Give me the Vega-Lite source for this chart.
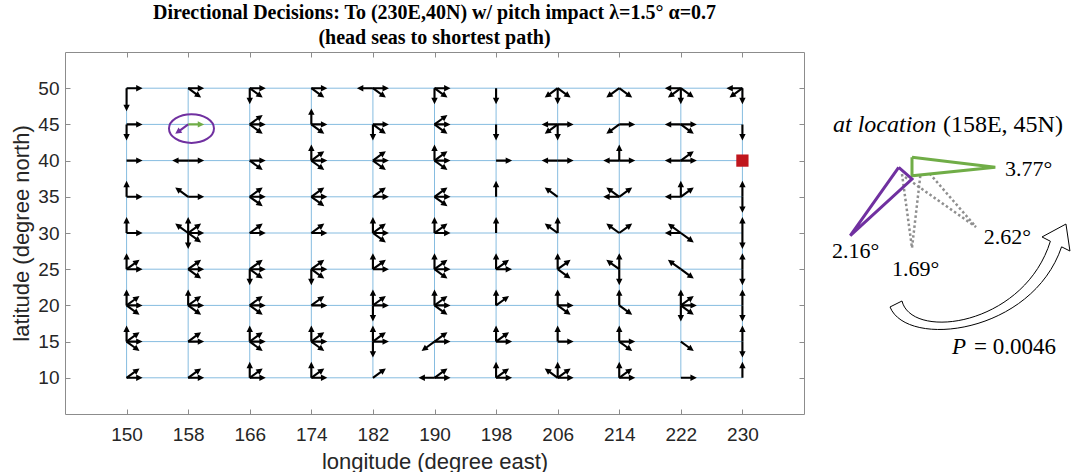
{
  "$schema": "https://vega.github.io/schema/vega-lite/v6.json",
  "width": 739,
  "height": 362,
  "padding": {"left": 10, "top": 2, "right": 0, "bottom": 0},
  "background": "white",
  "title": {
    "text": ["Directional Decisions: To (230E,40N) w/ pitch impact λ=1.5° α=0.7", "(head seas to shortest path)"],
    "font": "Liberation Serif", "fontSize": 20, "fontWeight": "bold", "color": "#000000",
    "anchor": "middle", "frame": "group", "offset": 4, "lineHeight": 25
  },
  "config": {
    "view": {"stroke": "#8c8c8c", "strokeWidth": 1},
    "axis": {
      "labelFont": "Liberation Sans", "titleFont": "Liberation Sans",
      "labelColor": "#262626", "titleColor": "#262626", "tickColor": "#8c8c8c",
      "domain": false, "grid": false, "tickSize": -5,
      "labelFontSize": 19, "titleFontSize": 22, "titleFontWeight": "normal"
    }
  },
  "resolve": {"axis": {"x": "independent", "y": "independent"}},
  "datasets": {
    "gh": [
      {"lat": 10, "lon1": 150, "lon2": 230}, {"lat": 15, "lon1": 150, "lon2": 230},
      {"lat": 20, "lon1": 150, "lon2": 230}, {"lat": 25, "lon1": 150, "lon2": 230},
      {"lat": 30, "lon1": 150, "lon2": 230}, {"lat": 35, "lon1": 150, "lon2": 230},
      {"lat": 40, "lon1": 150, "lon2": 230}, {"lat": 45, "lon1": 150, "lon2": 230},
      {"lat": 50, "lon1": 150, "lon2": 230}
    ],
    "gv": [
      {"lon": 150, "lat1": 10, "lat2": 50}, {"lon": 158, "lat1": 10, "lat2": 50},
      {"lon": 166, "lat1": 10, "lat2": 50}, {"lon": 174, "lat1": 10, "lat2": 50},
      {"lon": 182, "lat1": 10, "lat2": 50}, {"lon": 190, "lat1": 10, "lat2": 50},
      {"lon": 198, "lat1": 10, "lat2": 50}, {"lon": 206, "lat1": 10, "lat2": 50},
      {"lon": 214, "lat1": 10, "lat2": 50}, {"lon": 222, "lat1": 10, "lat2": 50},
      {"lon": 230, "lat1": 10, "lat2": 50}
    ],
    "ar": [
      {"lon":150,"lat":50,"dir":"E"},
      {"lon":150,"lat":45,"dir":"E"},{"lon":150,"lat":45,"dir":"S"},
      {"lon":150,"lat":40,"dir":"E"},
      {"lon":150,"lat":35,"dir":"N"},{"lon":150,"lat":35,"dir":"E"},
      {"lon":150,"lat":30,"dir":"N"},{"lon":150,"lat":30,"dir":"E"},
      {"lon":150,"lat":25,"dir":"N"},{"lon":150,"lat":25,"dir":"NE"},{"lon":150,"lat":25,"dir":"E"},
      {"lon":150,"lat":20,"dir":"N"},{"lon":150,"lat":20,"dir":"NE"},{"lon":150,"lat":20,"dir":"E"},{"lon":150,"lat":20,"dir":"SE"},
      {"lon":150,"lat":15,"dir":"N"},{"lon":150,"lat":15,"dir":"NE"},{"lon":150,"lat":15,"dir":"E"},{"lon":150,"lat":15,"dir":"SE"},
      {"lon":150,"lat":10,"dir":"NE"},{"lon":150,"lat":10,"dir":"E"},

      {"lon":158,"lat":50,"dir":"E"},{"lon":158,"lat":50,"dir":"SE"},
      {"lon":158,"lat":40,"dir":"E"},{"lon":158,"lat":40,"dir":"W"},
      {"lon":158,"lat":35,"dir":"NW"},{"lon":158,"lat":35,"dir":"E"},
      {"lon":158,"lat":30,"dir":"NW"},{"lon":158,"lat":30,"dir":"N"},{"lon":158,"lat":30,"dir":"NE"},{"lon":158,"lat":30,"dir":"E"},{"lon":158,"lat":30,"dir":"SE"},{"lon":158,"lat":30,"dir":"S"},
      {"lon":158,"lat":25,"dir":"NE"},{"lon":158,"lat":25,"dir":"E"},{"lon":158,"lat":25,"dir":"SE"},
      {"lon":158,"lat":20,"dir":"N"},{"lon":158,"lat":20,"dir":"NE"},{"lon":158,"lat":20,"dir":"E"},{"lon":158,"lat":20,"dir":"SE"},
      {"lon":158,"lat":15,"dir":"NE"},{"lon":158,"lat":15,"dir":"E"},
      {"lon":158,"lat":10,"dir":"NE"},{"lon":158,"lat":10,"dir":"E"},

      {"lon":166,"lat":50,"dir":"E"},{"lon":166,"lat":50,"dir":"S"},{"lon":166,"lat":50,"dir":"SE"},
      {"lon":166,"lat":45,"dir":"NE"},{"lon":166,"lat":45,"dir":"E"},{"lon":166,"lat":45,"dir":"SE"},
      {"lon":166,"lat":40,"dir":"E"},{"lon":166,"lat":40,"dir":"SE"},
      {"lon":166,"lat":35,"dir":"NE"},{"lon":166,"lat":35,"dir":"E"},{"lon":166,"lat":35,"dir":"SE"},
      {"lon":166,"lat":30,"dir":"NE"},{"lon":166,"lat":30,"dir":"E"},
      {"lon":166,"lat":25,"dir":"NE"},{"lon":166,"lat":25,"dir":"E"},{"lon":166,"lat":25,"dir":"SE"},{"lon":166,"lat":25,"dir":"S"},
      {"lon":166,"lat":20,"dir":"NE"},{"lon":166,"lat":20,"dir":"E"},{"lon":166,"lat":20,"dir":"SE"},
      {"lon":166,"lat":15,"dir":"N"},{"lon":166,"lat":15,"dir":"NE"},{"lon":166,"lat":15,"dir":"E"},{"lon":166,"lat":15,"dir":"SE"},
      {"lon":166,"lat":10,"dir":"N"},{"lon":166,"lat":10,"dir":"NE"},{"lon":166,"lat":10,"dir":"E"},

      {"lon":174,"lat":50,"dir":"E"},{"lon":174,"lat":50,"dir":"SE"},
      {"lon":174,"lat":45,"dir":"N"},{"lon":174,"lat":45,"dir":"E"},{"lon":174,"lat":45,"dir":"SE"},
      {"lon":174,"lat":40,"dir":"N"},{"lon":174,"lat":40,"dir":"NE"},{"lon":174,"lat":40,"dir":"E"},{"lon":174,"lat":40,"dir":"SE"},
      {"lon":174,"lat":35,"dir":"NE"},{"lon":174,"lat":35,"dir":"E"},{"lon":174,"lat":35,"dir":"SE"},
      {"lon":174,"lat":30,"dir":"NE"},{"lon":174,"lat":30,"dir":"E"},
      {"lon":174,"lat":25,"dir":"NE"},{"lon":174,"lat":25,"dir":"E"},{"lon":174,"lat":25,"dir":"SE"},{"lon":174,"lat":25,"dir":"S"},
      {"lon":174,"lat":20,"dir":"NE"},{"lon":174,"lat":20,"dir":"E"},
      {"lon":174,"lat":15,"dir":"N"},{"lon":174,"lat":15,"dir":"NE"},{"lon":174,"lat":15,"dir":"E"},{"lon":174,"lat":15,"dir":"SE"},
      {"lon":174,"lat":10,"dir":"N"},{"lon":174,"lat":10,"dir":"NE"},{"lon":174,"lat":10,"dir":"E"},

      {"lon":182,"lat":50,"dir":"W"},{"lon":182,"lat":50,"dir":"E"},{"lon":182,"lat":50,"dir":"SE"},
      {"lon":182,"lat":45,"dir":"E"},{"lon":182,"lat":45,"dir":"S"},{"lon":182,"lat":45,"dir":"SE"},
      {"lon":182,"lat":40,"dir":"NE"},{"lon":182,"lat":40,"dir":"E"},{"lon":182,"lat":40,"dir":"SE"},
      {"lon":182,"lat":35,"dir":"NE"},{"lon":182,"lat":35,"dir":"E"},
      {"lon":182,"lat":30,"dir":"N"},{"lon":182,"lat":30,"dir":"NE"},{"lon":182,"lat":30,"dir":"E"},{"lon":182,"lat":30,"dir":"SE"},
      {"lon":182,"lat":25,"dir":"N"},{"lon":182,"lat":25,"dir":"NE"},{"lon":182,"lat":25,"dir":"E"},
      {"lon":182,"lat":20,"dir":"N"},{"lon":182,"lat":20,"dir":"NE"},{"lon":182,"lat":20,"dir":"E"},{"lon":182,"lat":20,"dir":"S"},
      {"lon":182,"lat":15,"dir":"N"},{"lon":182,"lat":15,"dir":"NE"},{"lon":182,"lat":15,"dir":"E"},{"lon":182,"lat":15,"dir":"S"},
      {"lon":182,"lat":10,"dir":"NE"},

      {"lon":190,"lat":50,"dir":"E"},{"lon":190,"lat":50,"dir":"S"},{"lon":190,"lat":50,"dir":"SE"},
      {"lon":190,"lat":45,"dir":"NE"},{"lon":190,"lat":45,"dir":"E"},{"lon":190,"lat":45,"dir":"SE"},
      {"lon":190,"lat":40,"dir":"N"},{"lon":190,"lat":40,"dir":"NE"},{"lon":190,"lat":40,"dir":"E"},{"lon":190,"lat":40,"dir":"SE"},
      {"lon":190,"lat":35,"dir":"NE"},{"lon":190,"lat":35,"dir":"E"},{"lon":190,"lat":35,"dir":"SE"},
      {"lon":190,"lat":30,"dir":"N"},{"lon":190,"lat":30,"dir":"NE"},{"lon":190,"lat":30,"dir":"E"},
      {"lon":190,"lat":25,"dir":"N"},{"lon":190,"lat":25,"dir":"NE"},{"lon":190,"lat":25,"dir":"E"},{"lon":190,"lat":25,"dir":"SE"},
      {"lon":190,"lat":20,"dir":"N"},{"lon":190,"lat":20,"dir":"NE"},{"lon":190,"lat":20,"dir":"E"},{"lon":190,"lat":20,"dir":"SE"},
      {"lon":190,"lat":15,"dir":"SW"},{"lon":190,"lat":15,"dir":"NE"},{"lon":190,"lat":15,"dir":"E"},
      {"lon":190,"lat":10,"dir":"W"},{"lon":190,"lat":10,"dir":"NE"},{"lon":190,"lat":10,"dir":"E"},

      {"lon":198,"lat":50,"dir":"S"},
      {"lon":198,"lat":45,"dir":"S"},
      {"lon":198,"lat":40,"dir":"E"},
      {"lon":198,"lat":35,"dir":"N"},
      {"lon":198,"lat":30,"dir":"N"},
      {"lon":198,"lat":25,"dir":"N"},{"lon":198,"lat":25,"dir":"NE"},{"lon":198,"lat":25,"dir":"E"},
      {"lon":198,"lat":20,"dir":"N"},{"lon":198,"lat":20,"dir":"NE"},
      {"lon":198,"lat":15,"dir":"N"},{"lon":198,"lat":15,"dir":"NE"},{"lon":198,"lat":15,"dir":"E"},
      {"lon":198,"lat":10,"dir":"N"},{"lon":198,"lat":10,"dir":"NE"},{"lon":198,"lat":10,"dir":"E"},

      {"lon":206,"lat":50,"dir":"SW"},{"lon":206,"lat":50,"dir":"S"},{"lon":206,"lat":50,"dir":"SE"},
      {"lon":206,"lat":45,"dir":"W"},{"lon":206,"lat":45,"dir":"E"},{"lon":206,"lat":45,"dir":"S"},{"lon":206,"lat":45,"dir":"SW"},
      {"lon":206,"lat":40,"dir":"W"},{"lon":206,"lat":40,"dir":"E"},
      {"lon":206,"lat":35,"dir":"NW"},
      {"lon":206,"lat":30,"dir":"N"},{"lon":206,"lat":30,"dir":"NW"},
      {"lon":206,"lat":25,"dir":"N"},{"lon":206,"lat":25,"dir":"NE"},{"lon":206,"lat":25,"dir":"SE"},
      {"lon":206,"lat":20,"dir":"N"},{"lon":206,"lat":20,"dir":"E"},{"lon":206,"lat":20,"dir":"SE"},
      {"lon":206,"lat":15,"dir":"N"},{"lon":206,"lat":15,"dir":"E"},
      {"lon":206,"lat":10,"dir":"NW"},{"lon":206,"lat":10,"dir":"N"},{"lon":206,"lat":10,"dir":"NE"},{"lon":206,"lat":10,"dir":"E"},

      {"lon":214,"lat":50,"dir":"SW"},{"lon":214,"lat":50,"dir":"SE"},
      {"lon":214,"lat":45,"dir":"SW"},{"lon":214,"lat":45,"dir":"E"},
      {"lon":214,"lat":40,"dir":"N"},{"lon":214,"lat":40,"dir":"W"},{"lon":214,"lat":40,"dir":"E"},
      {"lon":214,"lat":35,"dir":"W"},{"lon":214,"lat":35,"dir":"NW"},{"lon":214,"lat":35,"dir":"NE"},
      {"lon":214,"lat":30,"dir":"NW"},{"lon":214,"lat":30,"dir":"NE"},
      {"lon":214,"lat":25,"dir":"N"},{"lon":214,"lat":25,"dir":"NW"},{"lon":214,"lat":25,"dir":"S"},
      {"lon":214,"lat":20,"dir":"N"},{"lon":214,"lat":20,"dir":"SE"},
      {"lon":214,"lat":15,"dir":"N"},{"lon":214,"lat":15,"dir":"E"},{"lon":214,"lat":15,"dir":"SE"},
      {"lon":214,"lat":10,"dir":"N"},{"lon":214,"lat":10,"dir":"NE"},{"lon":214,"lat":10,"dir":"E"},

      {"lon":222,"lat":50,"dir":"W"},{"lon":222,"lat":50,"dir":"SW"},{"lon":222,"lat":50,"dir":"S"},{"lon":222,"lat":50,"dir":"SE"},
      {"lon":222,"lat":45,"dir":"W"},{"lon":222,"lat":45,"dir":"E"},{"lon":222,"lat":45,"dir":"SE"},
      {"lon":222,"lat":40,"dir":"W"},{"lon":222,"lat":40,"dir":"NE"},{"lon":222,"lat":40,"dir":"E"},
      {"lon":222,"lat":35,"dir":"W"},{"lon":222,"lat":35,"dir":"N"},{"lon":222,"lat":35,"dir":"NE"},
      {"lon":222,"lat":30,"dir":"W"},{"lon":222,"lat":30,"dir":"NW"},{"lon":222,"lat":30,"dir":"SE"},
      {"lon":222,"lat":25,"dir":"NW"},{"lon":222,"lat":25,"dir":"SE"},
      {"lon":222,"lat":20,"dir":"N"},{"lon":222,"lat":20,"dir":"S"},{"lon":222,"lat":20,"dir":"NE"},{"lon":222,"lat":20,"dir":"E"},{"lon":222,"lat":20,"dir":"SE"},
      {"lon":222,"lat":15,"dir":"SE"},
      {"lon":222,"lat":10,"dir":"E"},

      {"lon":230,"lat":50,"dir":"W"},{"lon":230,"lat":50,"dir":"SW"},{"lon":230,"lat":50,"dir":"S"},
      {"lon":230,"lat":45,"dir":"S"},
      {"lon":230,"lat":35,"dir":"N"},{"lon":230,"lat":35,"dir":"S"},
      {"lon":230,"lat":30,"dir":"N"},{"lon":230,"lat":30,"dir":"S"},
      {"lon":230,"lat":25,"dir":"N"},{"lon":230,"lat":25,"dir":"S"},
      {"lon":230,"lat":20,"dir":"N"},{"lon":230,"lat":20,"dir":"S"},
      {"lon":230,"lat":15,"dir":"N"},{"lon":230,"lat":15,"dir":"S"},
      {"lon":230,"lat":10,"dir":"N"}
    ],
    "arLong": [{"lon": 150, "lat": 50, "dir": "S"}],
    "arSel": [
      {"lon": 158, "lat": 45, "dir": "E", "choice": "best"},
      {"lon": 158, "lat": 45, "dir": "SW", "choice": "chosen"}
    ],
    "target": [{"lon": 230, "lat": 40}],
    "circle": [{"lon": 158.43, "lat": 44.43}],
    "triSolid": [
      {"shape": "green", "o": 0, "lon": 252.03, "lat": 40.46},
      {"shape": "green", "o": 1, "lon": 262.85, "lat": 39.07},
      {"shape": "green", "o": 2, "lon": 252.03, "lat": 37.91},
      {"shape": "green", "o": 3, "lon": 252.03, "lat": 40.46},
      {"shape": "purple", "o": 0, "lon": 250.30, "lat": 39.07},
      {"shape": "purple", "o": 1, "lon": 252.03, "lat": 37.46},
      {"shape": "purple", "o": 2, "lon": 244.01, "lat": 29.63},
      {"shape": "purple", "o": 3, "lon": 250.30, "lat": 39.07}
    ],
    "triDot": [
      {"shape": "a", "o": 0, "lon": 250.73, "lat": 38.15},
      {"shape": "a", "o": 1, "lon": 252.03, "lat": 27.93},
      {"shape": "a", "o": 2, "lon": 253.11, "lat": 37.91},
      {"shape": "b", "o": 0, "lon": 251.12, "lat": 37.73},
      {"shape": "b", "o": 1, "lon": 260.34, "lat": 30.83},
      {"shape": "b", "o": 2, "lon": 254.37, "lat": 38.15}
    ],
    "labelsUpright": [
      {"lon": 264.11, "lat": 38.84, "t": "3.77°"},
      {"lon": 241.64, "lat": 27.56, "t": "2.16°"},
      {"lon": 249.43, "lat": 25.03, "t": "1.69°"},
      {"lon": 261.34, "lat": 29.41, "t": "2.62°"}
    ],
    "labelsPval": [
      {"lon": 260.08, "lat": 14.21, "t": "= 0.0046"}
    ],
    "labelsHead": [
      {"lon": 256.05, "lat": 44.92, "t": "(158E, 45N)"}
    ],
    "labelsItalic": [
      {"lon": 241.77, "lat": 44.92, "t": "at location"}
    ],
    "labelsP": [
      {"lon": 257.22, "lat": 14.21, "t": "P"}
    ],
    "curve": [{"lon": 261.12, "lat": 24.06}]
  },
  "layer": [
    {
      "data": {"name": "gh"},
      "mark": {"type": "rule", "color": "#86bce0", "strokeWidth": 1},
      "encoding": {
        "x": {"field": "lon1", "type": "quantitative", "scale": {"domain": [142, 238], "nice": false, "zero": false},
              "axis": {"orient": "bottom", "values": [150, 158, 166, 174, 182, 190, 198, 206, 214, 222, 230], "title": "longitude (degree east)", "labelPadding": 16, "titlePadding": 7}},
        "x2": {"field": "lon2"},
        "y": {"field": "lat", "type": "quantitative", "scale": {"domain": [5, 55], "nice": false, "zero": false},
              "axis": {"orient": "left", "values": [10, 15, 20, 25, 30, 35, 40, 45, 50], "title": "latitude (degree north)", "labelPadding": 11, "titlePadding": 4}}
      }
    },
    {
      "data": {"name": "gv"},
      "mark": {"type": "rule", "color": "#86bce0", "strokeWidth": 1},
      "encoding": {
        "x": {"field": "lon", "type": "quantitative", "axis": null},
        "y": {"field": "lat1", "type": "quantitative", "axis": null},
        "y2": {"field": "lat2"}
      }
    },
    {
      "data": {"name": "ar"},
      "mark": {"type": "point", "shape": "M-0.066,0L-0.066,-0.6L-0.2,-0.6L0,-1L0.2,-0.6L0.066,-0.6L0.066,0Z", "size": 1024, "filled": true, "color": "#000000", "opacity": 1, "strokeWidth": 0},
      "encoding": {
        "x": {"field": "lon", "type": "quantitative", "axis": null},
        "y": {"field": "lat", "type": "quantitative", "axis": null},
        "angle": {"field": "dir", "type": "nominal", "legend": null,
                  "scale": {"type": "ordinal", "domain": ["N", "NE", "E", "SE", "S", "SW", "W", "NW"], "range": [0, 54, 90, 126, 180, 234, 270, 306]}}
      }
    },
    {
      "data": {"name": "arLong"},
      "mark": {"type": "point", "shape": "M-0.066,0L-0.066,-1.04L-0.2,-1.04L0,-1.44L0.2,-1.04L0.066,-1.04L0.066,0Z", "size": 1024, "filled": true, "color": "#000000", "opacity": 1, "strokeWidth": 0},
      "encoding": {
        "x": {"field": "lon", "type": "quantitative", "axis": null},
        "y": {"field": "lat", "type": "quantitative", "axis": null},
        "angle": {"field": "dir", "type": "nominal", "legend": null,
                  "scale": {"type": "ordinal", "domain": ["N", "NE", "E", "SE", "S", "SW", "W", "NW"], "range": [0, 54, 90, 126, 180, 234, 270, 306]}}
      }
    },
    {
      "data": {"name": "arSel"},
      "mark": {"type": "point", "shape": "M-0.066,0L-0.066,-0.6L-0.2,-0.6L0,-1L0.2,-0.6L0.066,-0.6L0.066,0Z", "size": 1024, "filled": true, "opacity": 1, "strokeWidth": 0},
      "encoding": {
        "x": {"field": "lon", "type": "quantitative", "axis": null},
        "y": {"field": "lat", "type": "quantitative", "axis": null},
        "angle": {"field": "dir", "type": "nominal", "legend": null,
                  "scale": {"type": "ordinal", "domain": ["N", "NE", "E", "SE", "S", "SW", "W", "NW"], "range": [0, 54, 90, 126, 180, 234, 270, 306]}},
        "color": {"field": "choice", "type": "nominal", "legend": null,
                  "scale": {"domain": ["best", "chosen"], "range": ["#70ad47", "#7030a0"]}}
      }
    },
    {
      "data": {"name": "circle"},
      "mark": {"type": "point", "shape": "M-1,0A1,0.64,0,1,0,1,0A1,0.64,0,1,0,-1,0Z", "size": 2025, "filled": false, "stroke": "#7030a0", "strokeWidth": 2, "opacity": 1},
      "encoding": {
        "x": {"field": "lon", "type": "quantitative", "axis": null},
        "y": {"field": "lat", "type": "quantitative", "axis": null}
      }
    },
    {
      "data": {"name": "target"},
      "mark": {"type": "point", "shape": "square", "size": 150, "filled": true, "color": "#c0161d", "opacity": 1},
      "encoding": {
        "x": {"field": "lon", "type": "quantitative", "axis": null},
        "y": {"field": "lat", "type": "quantitative", "axis": null}
      }
    },
    {
      "data": {"name": "triDot"},
      "mark": {"type": "line", "color": "#8f8f8f", "strokeWidth": 2.5, "strokeDash": [2.5, 2.5]},
      "encoding": {
        "x": {"field": "lon", "type": "quantitative", "axis": null},
        "y": {"field": "lat", "type": "quantitative", "axis": null},
        "detail": {"field": "shape", "type": "nominal"},
        "order": {"field": "o", "type": "quantitative"}
      }
    },
    {
      "data": {"name": "triSolid"},
      "mark": {"type": "line", "strokeWidth": 3, "strokeJoin": "miter"},
      "encoding": {
        "x": {"field": "lon", "type": "quantitative", "axis": null},
        "y": {"field": "lat", "type": "quantitative", "axis": null},
        "color": {"field": "shape", "type": "nominal", "legend": null,
                  "scale": {"domain": ["green", "purple"], "range": ["#70ad47", "#7030a0"]}},
        "order": {"field": "o", "type": "quantitative"}
      }
    },
    {
      "data": {"name": "labelsUpright"},
      "mark": {"type": "text", "font": "Liberation Serif", "fontSize": 22, "align": "left", "baseline": "middle", "color": "#000000"},
      "encoding": {
        "x": {"field": "lon", "type": "quantitative", "axis": null},
        "y": {"field": "lat", "type": "quantitative", "axis": null},
        "text": {"field": "t", "type": "nominal"}
      }
    },
    {
      "data": {"name": "labelsPval"},
      "mark": {"type": "text", "font": "Liberation Serif", "fontSize": 23, "align": "left", "baseline": "middle", "color": "#000000"},
      "encoding": {
        "x": {"field": "lon", "type": "quantitative", "axis": null},
        "y": {"field": "lat", "type": "quantitative", "axis": null},
        "text": {"field": "t", "type": "nominal"}
      }
    },
    {
      "data": {"name": "labelsHead"},
      "mark": {"type": "text", "font": "Liberation Serif", "fontSize": 24, "align": "left", "baseline": "middle", "color": "#000000"},
      "encoding": {
        "x": {"field": "lon", "type": "quantitative", "axis": null},
        "y": {"field": "lat", "type": "quantitative", "axis": null},
        "text": {"field": "t", "type": "nominal"}
      }
    },
    {
      "data": {"name": "labelsItalic"},
      "mark": {"type": "text", "font": "Liberation Serif", "fontSize": 24, "fontStyle": "italic", "align": "left", "baseline": "middle", "color": "#000000"},
      "encoding": {
        "x": {"field": "lon", "type": "quantitative", "axis": null},
        "y": {"field": "lat", "type": "quantitative", "axis": null},
        "text": {"field": "t", "type": "nominal"}
      }
    },
    {
      "data": {"name": "labelsP"},
      "mark": {"type": "text", "font": "Liberation Serif", "fontSize": 23, "fontStyle": "italic", "align": "left", "baseline": "middle", "color": "#000000"},
      "encoding": {
        "x": {"field": "lon", "type": "quantitative", "axis": null},
        "y": {"field": "lat", "type": "quantitative", "axis": null},
        "text": {"field": "t", "type": "nominal"}
      }
    },
    {
      "data": {"name": "curve"},
      "mark": {"type": "point", "shape": "M-0.968,0.326C-0.789,0.768,0.526,0.611,0.838,-0.307L0.926,-0.263L0.884,-0.547L0.632,-0.411L0.72,-0.366C0.442,0.526,-0.737,0.684,-0.842,0.263Z", "size": 36100, "filled": true, "fill": "#ffffff", "stroke": "#000000", "strokeWidth": 1, "opacity": 1},
      "encoding": {
        "x": {"field": "lon", "type": "quantitative", "axis": null},
        "y": {"field": "lat", "type": "quantitative", "axis": null}
      }
    },
    {
      "data": {"values": [{"lon": 150, "lat": 10}]},
      "mark": {"type": "point", "opacity": 0},
      "encoding": {
        "x": {"field": "lon", "type": "quantitative", "scale": {"domain": [142, 238], "nice": false, "zero": false},
              "axis": {"orient": "top", "values": [150, 158, 166, 174, 182, 190, 198, 206, 214, 222, 230], "labels": false, "title": null}},
        "y": {"field": "lat", "type": "quantitative", "scale": {"domain": [5, 55], "nice": false, "zero": false},
              "axis": {"orient": "right", "values": [10, 15, 20, 25, 30, 35, 40, 45, 50], "labels": false, "title": null}}
      }
    }
  ]
}
